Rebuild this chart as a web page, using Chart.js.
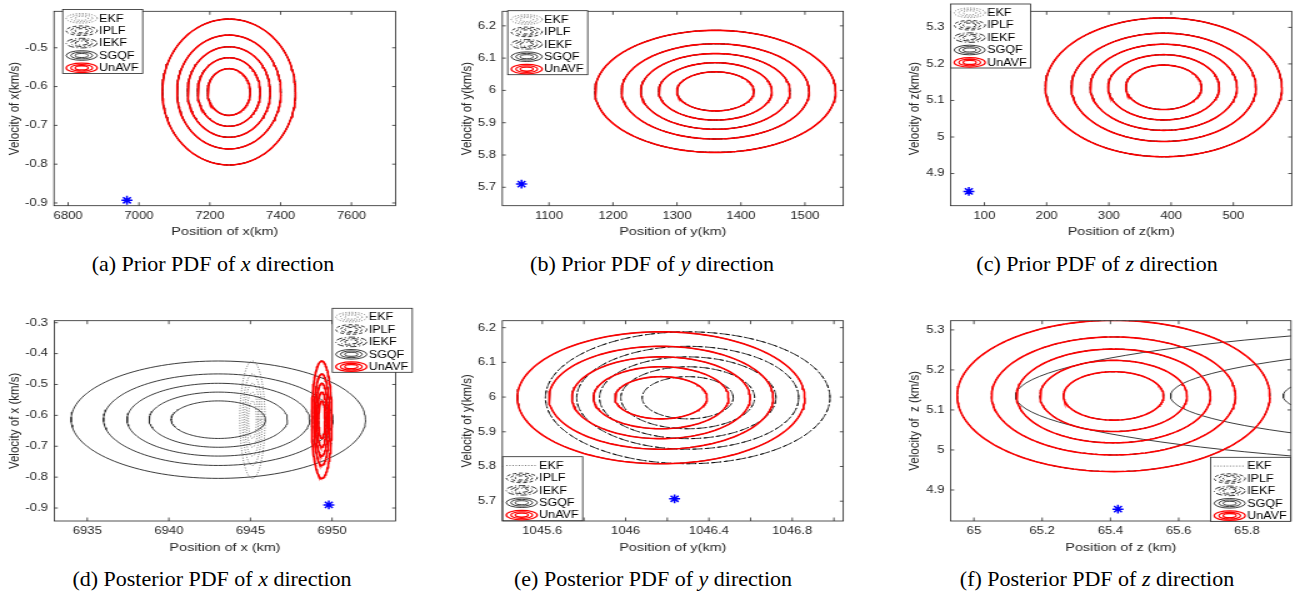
<!DOCTYPE html>
<html>
<head>
<meta charset="utf-8">
<script src="https://cdn.jsdelivr.net/npm/chart.js@4.4.1/dist/chart.umd.min.js"></script>
<style>
  body { margin: 0; background: #fff; width: 1300px; height: 598px; position: relative; overflow: hidden; }
  canvas { position: absolute; }
  .cap { position: absolute; width: 420px; text-align: center; font-family: "Liberation Serif", "Times New Roman", serif;
         font-size: 22px; line-height: 26px; color: #000; white-space: nowrap; }
</style>
</head>
<body>
<canvas id="pa"></canvas>
<canvas id="pb"></canvas>
<canvas id="pc"></canvas>
<canvas id="pd"></canvas>
<canvas id="pe"></canvas>
<canvas id="pf"></canvas>
<div class="cap" style="left:3px;top:251px">(a) Prior PDF of <i>x</i> direction</div>
<div class="cap" style="left:442px;top:251px">(b) Prior PDF of <i>y</i> direction</div>
<div class="cap" style="left:887px;top:251px">(c) Prior PDF of <i>z</i> direction</div>
<div class="cap" style="left:2px;top:566px">(d) Posterior PDF of <i>x</i> direction</div>
<div class="cap" style="left:443px;top:566px">(e) Posterior PDF of <i>y</i> direction</div>
<div class="cap" style="left:887px;top:566px">(f) Posterior PDF of <i>z</i> direction</div>

<script>
// filtres et niveaux de contour (rayon relatif des ellipses)
const methods = ['EKF', 'IPLF', 'IEKF', 'SGQF', 'UnAVF'];
const contourLevels = [1, 0.78, 0.62, 0.47, 0.32];

// (a) prior x
const aXRange = [6760, 7725];
const aYRange = [-0.907, -0.406];
const aXTicks = [6800, 7000, 7200, 7400, 7600];
const aYTicks = [-0.9, -0.8, -0.7, -0.6, -0.5];
const aCenters = [[7254, -0.614], [7254, -0.614], [7254, -0.614], [7254, -0.614], [7254, -0.614]];
const aSemiAxes = [[188, 0.188], [188, 0.188], [188, 0.188], [188, 0.188], [188, 0.188]];
const aTruth = [6966, -0.893];

// (b) prior y
const bXRange = [1027, 1560];
const bYRange = [5.643, 6.245];
const bXTicks = [1100, 1200, 1300, 1400, 1500];
const bYTicks = [5.7, 5.8, 5.9, 6, 6.1, 6.2];
const bCenters = [[1360, 5.997], [1360, 5.997], [1360, 5.997], [1360, 5.997], [1360, 5.997]];
const bSemiAxes = [[188, 0.189], [188, 0.189], [188, 0.189], [188, 0.189], [188, 0.189]];
const bTruth = [1057, 5.71];

// (c) prior z
const cXRange = [45.9, 593.7];
const cYRange = [4.812, 5.344];
const cXTicks = [100, 200, 300, 400, 500];
const cYTicks = [4.9, 5, 5.1, 5.2, 5.3];
const cCenters = [[388, 5.136], [388, 5.136], [388, 5.136], [388, 5.136], [388, 5.136]];
const cSemiAxes = [[190, 0.19], [190, 0.19], [190, 0.19], [190, 0.19], [190, 0.19]];
const cTruth = [75, 4.851];

// (d) posterior x
const dXRange = [6932.98, 6953.9];
const dYRange = [-0.942, -0.2935];
const dXTicks = [6935, 6940, 6945, 6950];
const dYTicks = [-0.9, -0.8, -0.7, -0.6, -0.5, -0.4, -0.3];
const dCenters = [[6945.12, -0.614], [6949.37, -0.614], [6949.37, -0.614], [6943.03, -0.614], [6949.37, -0.614]];
const dSemiAxes = [[0.77, 0.19], [0.62, 0.19], [0.62, 0.19], [9.02, 0.19], [0.62, 0.19]];
const dTruth = [6949.8, -0.89];

// (e) posterior y
const eXRange = [1045.408, 1047.045];
const eYRange = [5.643, 6.22];
const eXTicks = [1045.6, 1045.8, 1046, 1046.2, 1046.4, 1046.6, 1046.8, 1047];
const eXLabels = ['1045.6', '', '1046', '', '1046.4', '', '1046.8', ''];
const eYTicks = [5.7, 5.8, 5.9, 6, 6.1, 6.2];
const eCenters = [null, [1046.298, 5.998], [1046.298, 5.998], [1046.17, 5.998], [1046.17, 5.998]];
const eSemiAxes = [null, [0.683, 0.19], [0.683, 0.19], [0.69, 0.19], [0.69, 0.19]];
const eTruth = [1046.235, 5.707];

// (f) posterior z
const fXRange = [64.932, 65.929];
const fYRange = [4.8225, 5.323];
const fXTicks = [65, 65.2, 65.4, 65.6, 65.8];
const fYTicks = [4.9, 5, 5.1, 5.2, 5.3];
const fCenters = [null, [65.409, 5.135], [65.409, 5.135], [67.185, 5.135], [65.409, 5.135]];
const fSemiAxes = [null, [0.458, 0.189], [0.458, 0.189], [2.063, 0.189], [0.458, 0.189]];
const fTruth = [65.422, 4.852];

// styles des traits
const lineStyles = [
  { color: '#555555', width: 0.8, dash: [1, 1.5] },
  { color: '#000000', width: 0.8, dash: [3, 2] },
  { color: '#000000', width: 0.8, dash: [5, 2, 1, 2] },
  { color: '#262626', width: 0.9, dash: [] },
  { color: '#ff0000', width: 1.6, dash: [] }
];

const STRETCH = 1.25;           // figure étirée horizontalement
const TICK_FONT = 10.5;
const TITLE_FONT = 11.5;
const LEGEND_FONT = 10;
const AXIS_COLOR = '#262626';

// position des sous-figures (pixels de page)
const panels = [
  { id: 'pa', left: 0, top: 0, width: 430, height: 245, plot: [54, 4, 395.7, 205.7], yTitleX: 14.3, xTitleY: 232, legend: [62.7, 9.5], ekfLine: false,
    xRange: aXRange, yRange: aYRange, xTicks: aXTicks, yTicks: aYTicks, centers: aCenters, semi: aSemiAxes, truth: aTruth,
    xTitle: 'Position of x(km)', yTitle: 'Velocity of x(km/s)' },
  { id: 'pb', left: 430, top: 0, width: 430, height: 245, plot: [502.3, 4, 843.3, 205.7], yTitleX: 466.7, xTitleY: 232, legend: [507.7, 10.7], ekfLine: false,
    xRange: bXRange, yRange: bYRange, xTicks: bXTicks, yTicks: bYTicks, centers: bCenters, semi: bSemiAxes, truth: bTruth,
    xTitle: 'Position of y(km)', yTitle: 'Velocity of y(km/s)' },
  { id: 'pc', left: 870, top: 0, width: 430, height: 245, plot: [950.7, 4, 1291.7, 205.7], yTitleX: 914.3, xTitleY: 232, legend: [950.7, 4], ekfLine: false,
    xRange: cXRange, yRange: cYRange, xTicks: cXTicks, yTicks: cYTicks, centers: cCenters, semi: cSemiAxes, truth: cTruth,
    xTitle: 'Position of z(km)', yTitle: 'Velocity of z(km/s)' },
  { id: 'pd', left: 0, top: 300, width: 430, height: 262, plot: [54.3, 320.7, 395.7, 521], yTitleX: 14.3, xTitleY: 548.3, legend: [332.3, 308.3], ekfLine: false,
    xRange: dXRange, yRange: dYRange, xTicks: dXTicks, yTicks: dYTicks, centers: dCenters, semi: dSemiAxes, truth: dTruth,
    xTitle: 'Position of x (km)', yTitle: 'Velocity of x (km/s)' },
  { id: 'pe', left: 430, top: 300, width: 430, height: 262, plot: [502.3, 320.7, 843.3, 521], yTitleX: 466.7, xTitleY: 548.3, legend: [502.7, 456.7], ekfLine: true,
    xRange: eXRange, yRange: eYRange, xTicks: eXTicks, xLabels: eXLabels, yTicks: eYTicks, centers: eCenters, semi: eSemiAxes, truth: eTruth,
    xTitle: 'Position of y(km)', yTitle: 'Velocity of y(km/s)' },
  { id: 'pf', left: 870, top: 300, width: 430, height: 262, plot: [950.7, 320.7, 1291, 521], yTitleX: 915, xTitleY: 548.3, legend: [1210.7, 457.3], ekfLine: true,
    xRange: fXRange, yRange: fYRange, xTicks: fXTicks, yTicks: fYTicks, centers: fCenters, semi: fSemiAxes, truth: fTruth,
    xTitle: 'Position of z (km)', yTitle: 'Velocity of  z (km/s)' }
];

function ellipsePoints(c, ax, r) {
  const pts = [];
  for (let k = 0; k <= 144; k++) {
    const t = (k / 144) * 2 * Math.PI;
    pts.push({ x: c[0] + r * ax[0] * Math.cos(t), y: c[1] + r * ax[1] * Math.sin(t) });
  }
  return pts;
}

function fmt(v) {
  return String(Number(v.toFixed(3)));
}

// cadre + graduations vers l'intérieur, style MATLAB
const boxAxes = {
  id: 'boxAxes',
  afterDatasetsDraw(chart) {
    const { ctx, chartArea: a } = chart;
    const xs = chart.scales.x, ys = chart.scales.y;
    const tx = 3.5 / STRETCH, ty = 3.5;
    ctx.save();
    ctx.strokeStyle = AXIS_COLOR;
    ctx.lineWidth = 0.8;
    ctx.beginPath();
    xs.ticks.forEach(t => {
      const px = xs.getPixelForValue(t.value);
      ctx.moveTo(px, a.bottom); ctx.lineTo(px, a.bottom - ty);
      ctx.moveTo(px, a.top); ctx.lineTo(px, a.top + ty);
    });
    ys.ticks.forEach(t => {
      const py = ys.getPixelForValue(t.value);
      ctx.moveTo(a.left, py); ctx.lineTo(a.left + tx, py);
      ctx.moveTo(a.right, py); ctx.lineTo(a.right - tx, py);
    });
    ctx.stroke();
    ctx.strokeRect(a.left, a.top, a.right - a.left, a.bottom - a.top);
    ctx.restore();
  }
};

function drawIcon(ctx, i, cx, cy, rx, ry, asLine) {
  const st = lineStyles[i];
  ctx.save();
  ctx.strokeStyle = st.color;
  ctx.lineWidth = Math.min(st.width, 1.2);
  ctx.setLineDash(st.dash);
  ctx.beginPath();
  if (asLine) {
    ctx.moveTo(cx - rx, cy); ctx.lineTo(cx + rx, cy);
  } else {
    [1, 0.7, 0.42].forEach(f => {
      ctx.moveTo(cx + rx * f, cy);
      ctx.ellipse(cx, cy, rx * f, ry * f, 0, 0, 2 * Math.PI);
    });
  }
  ctx.stroke();
  ctx.restore();
}

// légende encadrée, placée à la main
const boxLegend = {
  id: 'boxLegend',
  afterDraw(chart, args, opts) {
    const ctx = chart.ctx;
    const x0 = opts.x, y0 = opts.y, w = 80 / STRETCH, h = 64;
    ctx.save();
    ctx.fillStyle = '#fff';
    ctx.fillRect(x0, y0, w, h);
    ctx.strokeStyle = AXIS_COLOR;
    ctx.lineWidth = 0.8;
    ctx.strokeRect(x0, y0, w, h);
    methods.forEach((m, i) => {
      const cy = y0 + 8.8 + i * 12.4;
      drawIcon(ctx, i, x0 + 19 / STRETCH, cy, 15.5 / STRETCH, 4.8, opts.ekfLine && i === 0);
      ctx.fillStyle = '#000';
      ctx.font = LEGEND_FONT + 'px "Liberation Sans", Arial, sans-serif';
      ctx.textBaseline = 'middle';
      ctx.fillText(m, x0 + 36.5 / STRETCH, cy + 0.5);
    });
    ctx.restore();
  }
};

function buildChart(p) {
  const canvas = document.getElementById(p.id);
  const logicalW = Math.round(p.width / STRETCH);
  canvas.width = logicalW;
  canvas.height = p.height;
  canvas.style.left = p.left + 'px';
  canvas.style.top = p.top + 'px';
  canvas.style.width = p.width + 'px';
  canvas.style.height = p.height + 'px';
  const sx = p.width / logicalW;
  const [pl, pt, pr, pb] = p.plot;

  // le rouge (UnAVF) doit passer au-dessus : order plus petit = dessiné en dernier
  const datasets = [];
  methods.forEach((m, i) => {
    if (!p.centers[i]) return;
    contourLevels.forEach(r => {
      datasets.push({
        label: m,
        order: methods.length - i,
        data: ellipsePoints(p.centers[i], p.semi[i], r),
        showLine: true,
        borderColor: lineStyles[i].color,
        borderWidth: lineStyles[i].width,
        borderDash: lineStyles[i].dash,
        pointRadius: 0,
        fill: false,
        tension: 0
      });
    });
  });
  datasets.push({
    label: 'truth',
    order: 0,
    data: [{ x: p.truth[0], y: p.truth[1] }],
    showLine: false,
    pointStyle: 'star',
    pointRadius: 4.4,
    borderColor: '#0000ff',
    borderWidth: 1.5
  });

  const tickFont = { family: '"Liberation Sans", Arial, sans-serif', size: TICK_FONT };
  const titleFont = { family: '"Liberation Sans", Arial, sans-serif', size: TITLE_FONT, lineHeight: 1.2 };
  const halfTitle = TITLE_FONT * 1.2 / 2;

  new Chart(canvas, {
    type: 'scatter',
    data: { datasets },
    options: {
      responsive: false,
      animation: false,
      devicePixelRatio: 1,
      layout: { padding: { left: 0, top: pt - p.top, right: (p.left + p.width - pr) / sx, bottom: 0 } },
      plugins: {
        legend: { display: false },
        tooltip: { enabled: false },
        boxLegend: { x: (p.legend[0] - p.left) / sx, y: p.legend[1] - p.top, ekfLine: p.ekfLine }
      },
      scales: {
        x: {
          type: 'linear', min: p.xRange[0], max: p.xRange[1],
          grid: { display: false, drawTicks: false },
          border: { display: false },
          afterBuildTicks: sc => { sc.ticks = p.xTicks.map(v => ({ value: v })); },
          afterFit: sc => { sc.height = p.top + p.height - pb; },
          ticks: {
            font: tickFont, color: AXIS_COLOR, padding: 4, maxRotation: 0, autoSkip: false,
            callback: v => p.xLabels ? p.xLabels[p.xTicks.indexOf(v)] : fmt(v)
          },
          title: { display: true, text: p.xTitle, font: titleFont, color: AXIS_COLOR,
                   padding: { top: 0, bottom: (p.top + p.height) - p.xTitleY - halfTitle } }
        },
        y: {
          type: 'linear', min: p.yRange[0], max: p.yRange[1],
          grid: { display: false, drawTicks: false },
          border: { display: false },
          afterBuildTicks: sc => { sc.ticks = p.yTicks.map(v => ({ value: v })); },
          afterFit: sc => { sc.width = (pl - p.left) / sx; },
          ticks: { font: tickFont, color: AXIS_COLOR, padding: 5, autoSkip: false, callback: v => fmt(v) },
          title: { display: true, text: p.yTitle, font: titleFont, color: AXIS_COLOR,
                   padding: { top: (p.yTitleX - p.left) / sx - halfTitle, bottom: 0 } }
        }
      }
    },
    plugins: [boxAxes, boxLegend]
  });
}

panels.forEach(buildChart);
</script>
</body>
</html>
